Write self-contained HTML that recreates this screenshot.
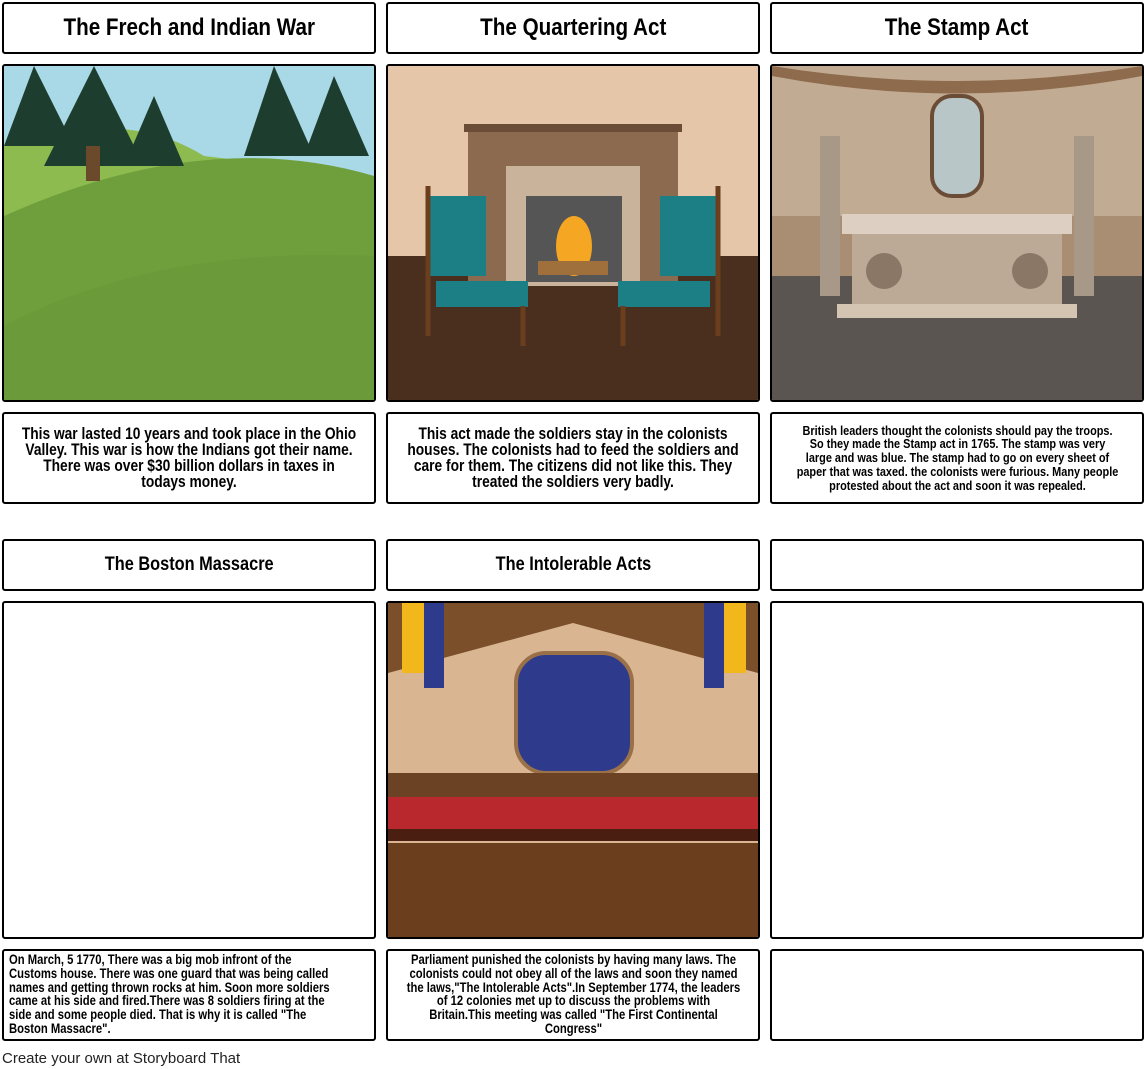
<!DOCTYPE html>
<html><head><meta charset="utf-8">
<style>
body{margin:0;width:1145px;height:1069px;background:#fff;position:relative;font-family:"Liberation Sans",sans-serif;overflow:hidden}
.b{position:absolute;box-sizing:border-box;border:2px solid #000;border-radius:3px;background:#fff;overflow:hidden}
.t{display:flex;align-items:center;justify-content:center;font-weight:bold;text-align:center}
.t span{display:inline-block;transform:scaleX(.86);white-space:nowrap}
.x{display:flex;align-items:center;justify-content:center;text-align:center;font-weight:bold;line-height:16px}
.s{flex-shrink:0;transform:scaleX(.84)}
svg{display:block}
</style></head><body>
<div class="b t" style="left:2px;top:2px;width:374px;height:52px;font-size:24px"><span>The Frech and Indian War</span></div>
<div class="b t" style="left:386px;top:2px;width:374px;height:52px;font-size:24px"><span>The Quartering Act</span></div>
<div class="b t" style="left:770px;top:2px;width:374px;height:52px;font-size:24px"><span>The Stamp Act</span></div>

<div class="b" style="left:2px;top:64px;width:374px;height:338px">
<svg width="370" height="334"><rect width="370" height="334" fill="#a9d8e6"/>
<path d="M0 80 Q120 40 200 90 L370 110 L370 334 L0 334Z" fill="#8dbb4f"/>
<path d="M0 150 Q200 60 370 110 L370 334 L0 334Z" fill="#6f9f3c"/>
<path d="M0 260 Q150 180 370 190 L370 334 L0 334Z" fill="#6a9a39"/>
<g fill="#1d3d2f"><path d="M30 0 L70 80 L0 80Z"/><path d="M90 0 L140 100 L40 100Z"/><path d="M150 30 L180 100 L120 100Z"/><path d="M270 0 L310 90 L240 90Z"/><path d="M330 10 L365 90 L300 90Z"/></g>
<rect x="82" y="80" width="14" height="35" fill="#6b4a2b"/></svg></div>

<div class="b" style="left:386px;top:64px;width:374px;height:338px">
<svg width="370" height="334"><rect width="370" height="334" fill="#e6c6a8"/>
<rect y="190" width="370" height="144" fill="#4a2e1e"/>
<rect x="80" y="60" width="210" height="160" fill="#8c6a50"/><rect x="76" y="58" width="218" height="8" fill="#6b4c36"/>
<rect x="118" y="100" width="134" height="120" fill="#c9b39a"/><rect x="138" y="130" width="96" height="86" fill="#555"/>
<ellipse cx="186" cy="180" rx="18" ry="30" fill="#f5a623"/><rect x="150" y="195" width="70" height="14" fill="#a0703c"/>
<rect x="40" y="130" width="58" height="80" fill="#1d7f86"/><rect x="48" y="215" width="92" height="26" fill="#1d7f86"/>
<rect x="272" y="130" width="58" height="80" fill="#1d7f86"/><rect x="230" y="215" width="92" height="26" fill="#1d7f86"/>
<g stroke="#6b3f1e" stroke-width="5"><line x1="40" y1="120" x2="40" y2="270"/><line x1="135" y1="240" x2="135" y2="280"/><line x1="330" y1="120" x2="330" y2="270"/><line x1="235" y1="240" x2="235" y2="280"/></g></svg></div>

<div class="b" style="left:770px;top:64px;width:374px;height:338px">
<svg width="370" height="334"><rect width="370" height="334" fill="#c2ab93"/>
<rect y="150" width="370" height="60" fill="#a98e73"/><rect y="210" width="370" height="124" fill="#5a5550"/>
<path d="M0 0 Q185 30 370 0 L370 10 Q185 45 0 10Z" fill="#8d6b4c"/>
<rect x="48" y="70" width="20" height="160" fill="#a89888"/><rect x="302" y="70" width="20" height="160" fill="#a89888"/>
<rect x="160" y="30" width="50" height="100" rx="20" fill="#b9c6c8" stroke="#6b4c36" stroke-width="4"/>
<rect x="70" y="148" width="230" height="20" fill="#ddd0c2"/><rect x="80" y="168" width="210" height="70" fill="#bca996"/>
<circle cx="112" cy="205" r="18" fill="#8a7766"/><circle cx="258" cy="205" r="18" fill="#8a7766"/><rect x="65" y="238" width="240" height="14" fill="#d4c4b2"/></svg></div>

<div class="b x" style="left:2px;top:412px;width:374px;height:92px;font-size:16.4px"><div class="s" style="width:400px">This war lasted 10 years and took place in the Ohio Valley. This war is how the Indians got their name. There was over $30 billion dollars in taxes in todays money.</div></div>
<div class="b x" style="left:386px;top:412px;width:374px;height:92px;font-size:16.4px"><div class="s" style="width:400px">This act made the soldiers stay in the colonists houses. The colonists had to feed the soldiers and care for them. The citizens did not like this. They treated the soldiers very badly.</div></div>
<div class="b x" style="left:770px;top:412px;width:374px;height:92px;font-size:13px;line-height:13.8px"><div class="s" style="width:383px">British leaders thought the colonists should pay the troops. So they made the Stamp act in 1765. The stamp was very large and  was blue. The stamp had to go on  every sheet of paper that was taxed. the colonists were furious. Many people protested about the act and soon it was repealed.</div></div>

<div class="b t" style="left:2px;top:539px;width:374px;height:52px;font-size:19px"><span>The Boston Massacre</span></div>
<div class="b t" style="left:386px;top:539px;width:374px;height:52px;font-size:19px"><span>The Intolerable Acts</span></div>
<div class="b" style="left:770px;top:539px;width:374px;height:52px"></div>

<div class="b" style="left:2px;top:601px;width:374px;height:338px"></div>
<div class="b" style="left:386px;top:601px;width:374px;height:338px">
<svg width="370" height="334"><rect width="370" height="334" fill="#d9b592"/>
<path d="M0 0 H370 V70 L185 20 L0 70Z" fill="#7a4f2a"/>
<rect x="128" y="50" width="116" height="120" rx="30" fill="#2e3a8c" stroke="#9a7048" stroke-width="4"/>
<rect x="14" y="0" width="22" height="70" fill="#f2b71a"/><rect x="36" y="0" width="20" height="85" fill="#2e3a8c"/>
<rect x="316" y="0" width="20" height="85" fill="#2e3a8c"/><rect x="336" y="0" width="22" height="70" fill="#f2b71a"/>
<rect y="170" width="370" height="24" fill="#6b4324"/><rect y="194" width="370" height="36" fill="#b8282c"/>
<rect y="226" width="370" height="12" fill="#4a1e10"/><rect y="240" width="370" height="94" fill="#6b3f1e"/></svg></div>
<div class="b" style="left:770px;top:601px;width:374px;height:338px"></div>

<div class="b" style="left:2px;top:949px;width:374px;height:92px;font-size:13.4px;font-weight:bold;padding:2px 0 0 5px;line-height:13.8px"><div style="width:395px;transform:scaleX(.84);transform-origin:left top">On March, 5 1770, There was a big mob infront of the Customs house. There was one guard that was being called names and getting thrown rocks at him. Soon more soldiers came at his side and fired.There was 8 soldiers firing at the side and some people died. That is why it is called "The Boston Massacre".</div></div>
<div class="b" style="left:386px;top:949px;width:374px;height:92px;font-size:13.4px;font-weight:bold;text-align:center;padding-top:2px;line-height:13.8px;display:flex;justify-content:center"><div class="s" style="width:397px;transform-origin:center top">Parliament punished the colonists by having many laws. The colonists could not obey all of the laws and soon they named the laws,"The Intolerable Acts".In September 1774, the leaders of 12 colonies met up to discuss the problems with Britain.This meeting was called "The First Continental Congress"</div></div>
<div class="b" style="left:770px;top:949px;width:374px;height:92px"></div>

<div style="position:absolute;left:2px;top:1050px;font-size:15px;color:#222">Create your own at Storyboard That</div>
</body></html>
